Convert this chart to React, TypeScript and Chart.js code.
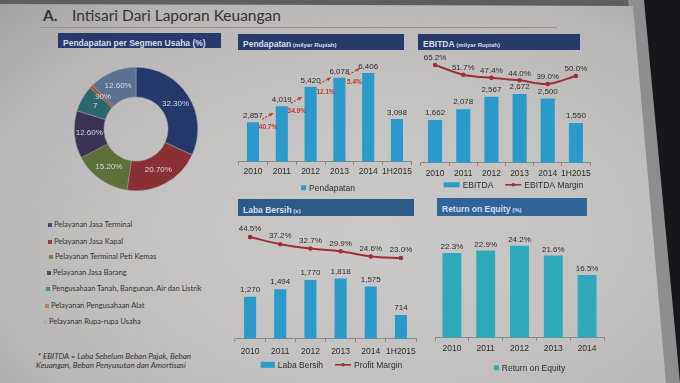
import React, { useEffect, useRef } from "react";
import { Chart, registerables } from "chart.js";
Chart.register(...registerables);

const FONT = '"Liberation Sans", Arial, sans-serif';
const TEXT = "#2c2c2c";
const BAR_BLUE = "#2a9acb";
const ROE_TEAL = "#2ea9ba";
const LINE_RED = "#9e2f36";
const GROWTH_RED = "#c0392b";

const years6 = ["2010", "2011", "2012", "2013", "2014", "1H2015"];
const years5 = ["2010", "2011", "2012", "2013", "2014"];

const segmentLabels = [
  "Pelayanan Jasa Terminal",
  "Pelayanan Jasa Kapal",
  "Pelayanan Terminal Peti Kemas",
  "Pelayanan Jasa Barang",
  "Pengusahaan Tanah, Bangunan, Air dan Listrik",
  "Pelayanan Pengusahaan Alat",
  "Pelayanan Rupa-rupa Usaha",
];
const segmentValues = [32.3, 20.7, 15.2, 12.6, 7, 0.9, 12.6];
const segmentText = ["32.30%", "20.70%", "15.20%", "12.60%", "7", ".90%", "12.60%"];
const segmentColors = ["#24396b", "#8a3034", "#5f6f38", "#3b3354", "#2b686e", "#b0502e", "#5c7192"];
const legendSquareColors = ["#3d4e70", "#9a3a3c", "#7a8050", "#4c4a68", "#3a9294", "#c07a58", "#aab0bc"];

const pendapatan = [2857, 4019, 5420, 6078, 6406, 3098];
const pendapatanGrowth = ["40.7%", "34.9%", "12.1%", "5.4%"];
const ebitda = [1662, 2078, 2567, 2672, 2500, 1550];
const ebitdaMargin = [65.2, 51.7, 47.4, 44.0, 39.0, 50.0];
const labaBersih = [1270, 1494, 1770, 1818, 1575, 714];
const profitMargin = [44.5, 37.2, 32.7, 29.9, 24.6, 23.0];
const roe = [22.3, 22.9, 24.2, 21.6, 16.5];

const fmtNum = (v: number) => v.toLocaleString("en-US");
const fmtPct = (v: number) => v.toFixed(1) + "%";

type LegendItem = { kind: "rect" | "line"; color: string; text: string; w: number; h?: number };

function legendPlugin(items: LegendItem[], dy: number, dx: number) {
  return {
    id: "customLegend",
    afterDraw(chart: any) {
      const ctx = chart.ctx;
      const ca = chart.chartArea;
      ctx.save();
      ctx.font = `8.5px ${FONT}`;
      const gap = 12;
      const widths = items.map((it) => it.w + 3 + ctx.measureText(it.text).width);
      const total = widths.reduce((a, b) => a + b, 0) + gap * (items.length - 1);
      let x = (ca.left + ca.right) / 2 - total / 2 + dx;
      const y = ca.bottom + dy;
      items.forEach((it, i) => {
        if (it.kind === "rect") {
          ctx.fillStyle = it.color;
          const h = it.h || 5;
          ctx.fillRect(x, y - h / 2, it.w, h);
        } else {
          ctx.strokeStyle = it.color;
          ctx.lineWidth = 1.6;
          ctx.beginPath();
          ctx.moveTo(x, y);
          ctx.lineTo(x + it.w, y);
          ctx.stroke();
          ctx.fillStyle = it.color;
          ctx.beginPath();
          ctx.arc(x + it.w / 2, y, 1.8, 0, Math.PI * 2);
          ctx.fill();
        }
        ctx.fillStyle = TEXT;
        ctx.textAlign = "left";
        ctx.textBaseline = "middle";
        ctx.fillText(it.text, x + it.w + 3, y + 0.5);
        x += widths[i] + gap;
      });
      ctx.restore();
    },
  };
}

function labelsPlugin(specs: { ds: number; fmt: (v: number) => string; dy: number }[]) {
  return {
    id: "valueLabels",
    afterDatasetsDraw(chart: any) {
      const ctx = chart.ctx;
      ctx.save();
      ctx.font = `8px ${FONT}`;
      ctx.fillStyle = TEXT;
      ctx.textAlign = "center";
      ctx.textBaseline = "bottom";
      specs.forEach((s) => {
        const meta = chart.getDatasetMeta(s.ds);
        const data = chart.data.datasets[s.ds].data as number[];
        meta.data.forEach((el: any, i: number) => {
          ctx.fillText(s.fmt(data[i]), el.x, el.y - s.dy);
        });
      });
      ctx.restore();
    },
  };
}

const growthPlugin = {
  id: "growth",
  afterDatasetsDraw(chart: any) {
    const meta = chart.getDatasetMeta(0);
    const ctx = chart.ctx;
    ctx.save();
    pendapatanGrowth.forEach((g, i) => {
      const el = meta.data[i] as any;
      const x = el.x;
      const top = el.y;
      const x0 = x + 9, y0 = top - 3, x1 = x + 20, y1 = top - 9;
      ctx.strokeStyle = GROWTH_RED;
      ctx.fillStyle = GROWTH_RED;
      ctx.lineWidth = 1.2;
      ctx.setLineDash([2, 1.5]);
      ctx.beginPath();
      ctx.moveTo(x0, y0);
      ctx.lineTo(x1, y1);
      ctx.stroke();
      ctx.setLineDash([]);
      const ang = Math.atan2(y1 - y0, x1 - x0);
      ctx.beginPath();
      ctx.moveTo(x1, y1);
      ctx.lineTo(x1 - 4 * Math.cos(ang - 0.5), y1 - 4 * Math.sin(ang - 0.5));
      ctx.lineTo(x1 - 4 * Math.cos(ang + 0.5), y1 - 4 * Math.sin(ang + 0.5));
      ctx.closePath();
      ctx.fill();
      ctx.font = `bold 6.5px ${FONT}`;
      ctx.textAlign = "center";
      ctx.textBaseline = "middle";
      ctx.fillText(g, x + 15, top + 5);
    });
    ctx.restore();
  },
};

const donutLabelsPlugin = {
  id: "donutLabels",
  afterDatasetsDraw(chart: any) {
    const ctx = chart.ctx;
    const meta = chart.getDatasetMeta(0);
    ctx.save();
    ctx.font = `8px ${FONT}`;
    ctx.fillStyle = "#d6d9e4";
    ctx.textAlign = "center";
    ctx.textBaseline = "middle";
    meta.data.forEach((arc: any, i: number) => {
      const p = arc.tooltipPosition(false);
      ctx.fillText(segmentText[i], p.x, p.y);
    });
    ctx.restore();
  },
};

function comboConfig(p: {
  labels: string[];
  bars: number[];
  barColor: string;
  barPct: number;
  yMax: number;
  line?: number[];
  y1Min?: number;
  y1Max?: number;
  tickPad: number;
  pad: { left: number; right: number; top: number; bottom: number };
  plugins: any[];
}): any {
  const datasets: any[] = [
    {
      type: "bar",
      data: p.bars,
      backgroundColor: p.barColor,
      categoryPercentage: 1,
      barPercentage: p.barPct,
      yAxisID: "y",
      order: 2,
    },
  ];
  if (p.line) {
    datasets.push({
      type: "line",
      data: p.line,
      borderColor: LINE_RED,
      backgroundColor: LINE_RED,
      borderWidth: 2,
      pointRadius: 1.3,
      tension: 0.3,
      yAxisID: "y1",
      order: 1,
    });
  }
  const scales: any = {
    x: {
      grid: { display: true, drawOnChartArea: false, drawTicks: true, tickLength: 3, color: "#8a8a8a" },
      border: { display: true, color: "#8a8a8a" },
      ticks: { font: { size: 8.5, family: FONT }, color: TEXT, padding: p.tickPad, maxRotation: 0, autoSkip: false },
    },
    y: { display: false, min: 0, max: p.yMax },
  };
  if (p.line) scales.y1 = { display: false, min: p.y1Min, max: p.y1Max };
  return {
    type: "bar",
    data: { labels: p.labels, datasets },
    options: {
      responsive: false,
      animation: false,
      layout: { padding: p.pad },
      plugins: { legend: { display: false }, tooltip: { enabled: false } },
      scales,
    },
    plugins: p.plugins,
  };
}

function ChartBox(props: { left: number; top: number; width: number; height: number; config: () => any }) {
  const ref = useRef<HTMLCanvasElement>(null);
  useEffect(() => {
    const chart = new Chart(ref.current as HTMLCanvasElement, props.config());
    return () => chart.destroy();
  }, []);
  return (
    <canvas
      ref={ref}
      width={props.width}
      height={props.height}
      style={{ position: "absolute", left: props.left, top: props.top, width: props.width, height: props.height }}
    />
  );
}

function Header(props: { left: number; top: number; width: number; height: number; bg: string; main: string; sub: string }) {
  return (
    <div
      style={{
        position: "absolute",
        left: props.left,
        top: props.top,
        width: props.width,
        height: props.height,
        background: props.bg,
        color: "#d9deea",
        fontFamily: FONT,
        lineHeight: props.height + "px",
        paddingLeft: 5,
        boxSizing: "border-box",
        whiteSpace: "nowrap",
        overflow: "hidden",
      }}
    >
      <span style={{ fontSize: 8.5, fontWeight: "bold" }}>{props.main}</span>
      <span style={{ fontSize: 6, fontWeight: "bold" }}>{props.sub}</span>
    </div>
  );
}

const donutConfig = (): any => ({
  type: "doughnut",
  data: {
    labels: segmentLabels,
    datasets: [
      {
        data: segmentValues,
        backgroundColor: segmentColors,
        borderColor: "#9a9ca4",
        borderWidth: 0.5,
      },
    ],
  },
  options: {
    responsive: false,
    animation: false,
    cutout: "52%",
    layout: { padding: 0 },
    plugins: { legend: { display: false }, tooltip: { enabled: false } },
  },
  plugins: [donutLabelsPlugin],
});

const legendYs = [225, 242, 257, 273, 289, 306, 322];
const legendXs = [48, 48, 49, 47, 46, 45, 43];

export default function App() {
  return (
    <div
      style={{
        position: "fixed",
        left: 0,
        top: 0,
        width: 680,
        height: 383,
        overflow: "hidden",
        background: "#16161b",
        fontFamily: FONT,
      }}
    >
      <div style={{ position: "absolute", left: 0, top: 0, width: 640, height: 8, background: "#5e5e5e" }} />
      <div
        style={{
          position: "absolute",
          inset: 0,
          background: "#8e8e8e",
          clipPath: "polygon(628px 0, 644px 0, 680px 383px, 664px 383px)",
        }}
      />
      <div
        style={{
          position: "absolute",
          inset: 0,
          background:
            "radial-gradient(ellipse at 55% 60%, #cbc9c7 0%, #c4c2c0 45%, #b8b7b6 75%, #a2a2a2 100%)",
          clipPath: "polygon(0 4px, 633px 6px, 666px 383px, 0 383px)",
        }}
      />

      {/* Title */}
      <div
        style={{
          position: "absolute",
          left: 43,
          top: 5,
          fontFamily: "Lato, 'Open Sans', sans-serif",
          fontSize: 15.5,
          lineHeight: "20px",
          color: "#333",
          whiteSpace: "nowrap",
        }}
      >
        <span style={{ display: "inline-block", width: 29, fontWeight: "bold" }}>A.</span>
        <span>Intisari Dari Laporan Keuangan</span>
      </div>
      <div style={{ position: "absolute", left: 40, top: 27, width: 517, height: 1, background: "#a48c8c" }} />

      {/* Headers */}
      <Header left={58} top={33} width={163} height={15} bg="#263a6b" main="Pendapatan per Segmen Usaha (%)" sub="" />
      <Header left={238} top={34} width={166} height={16} bg="#263a6b" main="Pendapatan" sub=" (milyar Rupiah)" />
      <Header left={418} top={34} width={162} height={16} bg="#263a6b" main="EBITDA" sub=" (milyar Rupiah)" />
      <Header left={238} top={199} width={176} height={17} bg="#2c5b88" main="Laba Bersih" sub=" (x)" />
      <Header left={437} top={198} width={150} height={18} bg="#30659a" main="Return on Equity" sub=" (%)" />

      {/* Donut */}
      <ChartBox left={74} top={67} width={124} height={124} config={donutConfig} />

      {/* Donut legend */}
      {segmentLabels.map((t, i) => (
        <div
          key={t}
          style={{
            position: "absolute",
            left: legendXs[i],
            top: legendYs[i] - 6,
            height: 12,
            lineHeight: "12px",
            fontFamily: "Lato, 'Open Sans', sans-serif",
            fontSize: 7.5,
            color: "#333",
            whiteSpace: "nowrap",
          }}
        >
          <span
            style={{
              display: "inline-block",
              width: 4,
              height: 4,
              background: legendSquareColors[i],
              marginRight: 2,
              verticalAlign: "middle",
            }}
          />
          <span style={{ verticalAlign: "middle" }}>{t}</span>
        </div>
      ))}

      {/* Footnote */}
      <div
        style={{
          position: "absolute",
          left: 36,
          top: 352,
          fontFamily: "Lato, 'Open Sans', sans-serif",
          fontStyle: "italic",
          fontSize: 8,
          lineHeight: "9px",
          color: "#333",
          whiteSpace: "nowrap",
        }}
      >
        <div>&nbsp;* EBITDA = Laba Sebelum Beban Pajak, Beban</div>
        <div>Keuangan, Beban Penyusutan dan Amortisasi</div>
      </div>

      {/* Pendapatan */}
      <ChartBox
        left={230}
        top={50}
        width={190}
        height={146}
        config={() =>
          comboConfig({
            labels: years6,
            bars: pendapatan,
            barColor: BAR_BLUE,
            barPct: 0.42,
            yMax: 7352,
            tickPad: 2,
            pad: { left: 8.6, right: 8.6, top: 10, bottom: 17 },
            plugins: [
              labelsPlugin([{ ds: 0, fmt: fmtNum, dy: 2 }]),
              growthPlugin,
              legendPlugin([{ kind: "rect", color: BAR_BLUE, text: "Pendapatan", w: 5, h: 5 }], 26, 3),
            ],
          })
        }
      />

      {/* EBITDA */}
      <ChartBox
        left={412}
        top={45}
        width={190}
        height={150}
        config={() =>
          comboConfig({
            labels: years6,
            bars: ebitda,
            barColor: BAR_BLUE,
            barPct: 0.5,
            yMax: 4186,
            line: ebitdaMargin,
            y1Min: -70,
            y1Max: 79,
            tickPad: 3,
            pad: { left: 9, right: 12, top: 10, bottom: 13 },
            plugins: [
              labelsPlugin([
                { ds: 0, fmt: fmtNum, dy: 3 },
                { ds: 1, fmt: fmtPct, dy: 3 },
              ]),
              legendPlugin(
                [
                  { kind: "rect", color: BAR_BLUE, text: "EBITDA", w: 16, h: 5 },
                  { kind: "line", color: LINE_RED, text: "EBITDA Margin", w: 16 },
                ],
                22,
                8
              ),
            ],
          })
        }
      />

      {/* Laba Bersih */}
      <ChartBox
        left={228}
        top={212}
        width={195}
        height={168}
        config={() =>
          comboConfig({
            labels: years6,
            bars: labaBersih,
            barColor: BAR_BLUE,
            barPct: 0.4,
            yMax: 3520,
            line: profitMargin,
            y1Min: -60,
            y1Max: 60,
            tickPad: 5,
            pad: { left: 7, right: 7, top: 10, bottom: 18 },
            plugins: [
              labelsPlugin([
                { ds: 0, fmt: fmtNum, dy: 3 },
                { ds: 1, fmt: fmtPct, dy: 4 },
              ]),
              legendPlugin(
                [
                  { kind: "rect", color: BAR_BLUE, text: "Laba Bersih", w: 14, h: 6 },
                  { kind: "line", color: LINE_RED, text: "Profit Margin", w: 16 },
                ],
                26,
                6
              ),
            ],
          })
        }
      />

      {/* ROE */}
      <ChartBox
        left={428}
        top={225}
        width={185}
        height={152}
        config={() =>
          comboConfig({
            labels: years5,
            bars: roe,
            barColor: ROE_TEAL,
            barPct: 0.56,
            yMax: 27,
            tickPad: 3,
            pad: { left: 7, right: 9, top: 10, bottom: 20 },
            plugins: [
              labelsPlugin([{ ds: 0, fmt: fmtPct, dy: 2 }]),
              legendPlugin([{ kind: "rect", color: ROE_TEAL, text: "Return on Equity", w: 5, h: 5 }], 30, 10),
            ],
          })
        }
      />
    </div>
  );
}
